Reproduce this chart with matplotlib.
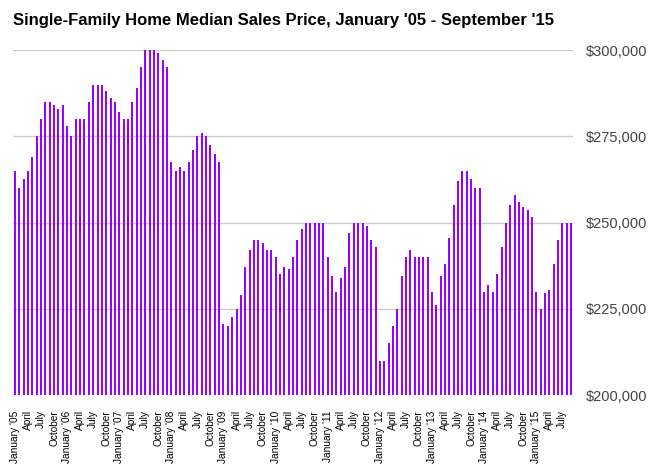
import numpy as np
import matplotlib
matplotlib.use("Agg")
import matplotlib.pyplot as plt
from matplotlib.ticker import FuncFormatter

# monthly median price, Jan 2005 .. Sep 2015
prices = [
    # 2005
    265000, 260000, 262500, 265000, 269000, 275000, 280000, 285000, 285000, 284000, 283000, 284000,
    # 2006
    278000, 275000, 280000, 280000, 280000, 285000, 290000, 290000, 290000, 288000, 286000, 285000,
    # 2007
    282000, 280000, 280000, 285000, 289000, 295000, 300000, 300000, 300000, 299000, 297000, 295000,
    # 2008
    267500, 265000, 266000, 265000, 267500, 271000, 275000, 276000, 275000, 272500, 270000, 267500,
    # 2009
    220500, 220000, 222500, 225000, 229000, 237000, 242000, 245000, 245000, 244000, 242000, 242000,
    # 2010
    240000, 235000, 237000, 236500, 240000, 245000, 248000, 250000, 250000, 250000, 250000, 250000,
    # 2011
    240000, 234500, 230000, 234000, 237000, 247000, 250000, 250000, 250000, 249000, 245000, 243000,
    # 2012
    210000, 210000, 215000, 220000, 225000, 234500, 240000, 242000, 240000, 240000, 240000, 240000,
    # 2013
    230000, 226000, 234500, 238000, 245500, 255000, 262000, 265000, 265000, 262500, 260000, 260000,
    # 2014
    230000, 232000, 230000, 235000, 243000, 250000, 255000, 258000, 256000, 254500, 253500, 251500,
    # 2015
    230000, 225000, 229500, 230500, 238000, 245000, 250000, 250000, 250000,
]

months = ["January", "February", "March", "April", "May", "June",
          "July", "August", "September", "October", "November", "December"]
labels = []
for i in range(len(prices)):
    m = months[i % 12]
    if i % 12 == 0:
        m = "%s '%02d" % (m, 5 + i // 12)
    labels.append(m)

plt.rcParams['font.family'] = ['Liberation Sans', 'DejaVu Sans']

fig = plt.figure(figsize=(6.56, 4.75), dpi=100)
ax = fig.add_axes([0.0198, 0.1684, 0.8537, 0.7263])

x = np.arange(len(prices))
ax.bar(x, prices, width=0.46, color='#9900ff', zorder=2)

ax.set_ylim(200000, 300000)
ax.set_xlim(-0.46, len(prices) - 0.54)
ax.set_yticks(np.arange(200000, 300001, 25000))
ax.yaxis.set_major_formatter(FuncFormatter(lambda v, p: "${:,.0f}".format(v)))
ax.yaxis.tick_right()
ax.tick_params(axis='y', length=0, pad=9.5, labelsize=10.5, labelcolor='#444444')
ax.grid(axis='y', color='#cccccc', linewidth=1, zorder=0)

ticks = x[::3]
ax.set_xticks(ticks)
ax.set_xticklabels([labels[i] for i in ticks], rotation=90, fontsize=7.3)
ax.tick_params(axis='x', length=0, pad=11)

for s in ax.spines.values():
    s.set_visible(False)

fig.text(0.0198, 0.947, "Single-Family Home Median Sales Price, January '05 - September '15",
         fontsize=12, fontweight='bold', va='baseline')

fig.savefig("out.png", dpi=100)
